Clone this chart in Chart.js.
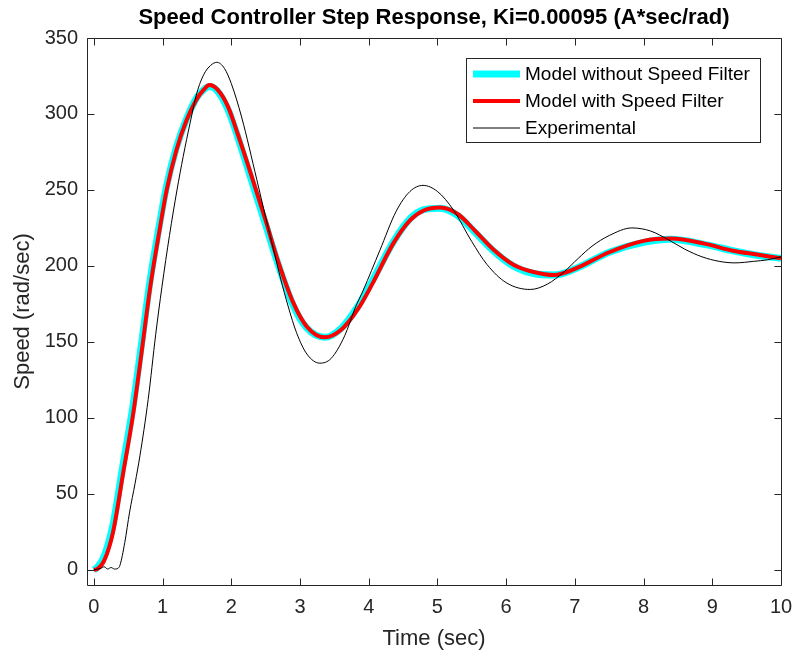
<!DOCTYPE html>
<html>
<head>
<meta charset="utf-8">
<script src="https://cdn.jsdelivr.net/npm/chart.js@4/dist/chart.umd.min.js"></script>
<style>
html,body{margin:0;padding:0;background:#fff;}
#c{display:block;}
</style>
</head>
<body>
<canvas id="c" width="793" height="657"></canvas>
<script>
// ---- data ----
const modelTime = [0,0.05,0.15,0.28,0.42,0.57,0.7,0.82,0.95,1.06,1.2,1.35,1.5,1.6,1.68,1.8,1.95,2.1,2.31,2.5,2.66,2.9,3.1,3.36,3.6,3.85,4.05,4.36,4.6,4.8,5.04,5.3,5.55,5.81,6.1,6.4,6.7,7.0,7.5,8.0,8.4,8.9,9.3,9.65,10];
const modelNoFilter = [0,1.5,9,30,68,108,151,191,226,253,278,297,311,316,318,315,303,284,254,227,204,174,159,153,159,174,190,216,231,237,238,233,222,210,200,195,194,198,209,215.5,217.5,214,210,207,205];
const modelWithFilter = [0,0.5,6,25,62,102,145,186,222,250,276,296,310,316,319,316,305,286,257,230,206,176,160,153,158,172,188,215,230,236.5,238.5,234,223,211,201,196,194,198,209,216.5,218,214.5,210,207.5,205];
const expTime = [0,0.1,0.15,0.2,0.25,0.3,0.35,0.38,0.45,0.52,0.6,0.67,0.79,0.9,0.99,1.1,1.21,1.3,1.4,1.5,1.6,1.7,1.79,1.9,2.0,2.15,2.37,2.5,2.63,2.71,2.83,2.95,3.1,3.29,3.45,3.65,3.8,3.92,4.16,4.4,4.6,4.79,5.0,5.23,5.5,5.72,6.0,6.35,6.6,6.84,7.05,7.25,7.5,7.83,8.1,8.37,8.6,8.85,9.1,9.33,9.6,9.8,10];
const experimental = [0,1,2,0.5,1.5,0.5,1,3,18,38,57,75,112,155,186,220,250,272,294,314,326,332,334,330,320,298,257,232,208,193,173,156,142,136,139,154,172,184,210,236,249,253,249,237,216,201,189,184.5,188,196,205,213,220,225,223,217,211,206,203,202,203,204,206];
const xTicks = [0,1,2,3,4,5,6,7,8,9,10];
const yTicks = [0,50,100,150,200,250,300,350];
const seriesNames = ['Model without Speed Filter','Model with Speed Filter','Experimental'];
const titleText = 'Speed Controller Step Response, Ki=0.00095 (A*sec/rad)';
const xLabel = 'Time (sec)';
const yLabel = 'Speed (rad/sec)';

const FONT = '"Liberation Sans", Arial, Helvetica, sans-serif';
const TXT = '#262626';

function pts(xs, ys){ return xs.map((x,i)=>({x:x, y:ys[i]})); }

const boxPlugin = {
  id:'matlabBox',
  afterDraw(chart){
    const ctx = chart.ctx, a = chart.chartArea;
    const xs = chart.scales.x, ys = chart.scales.y;
    ctx.save();
    ctx.strokeStyle = TXT; ctx.lineWidth = 1;
    ctx.beginPath();
    const L=Math.round(a.left)+0.5, R=Math.round(a.right)+0.5, T=Math.round(a.top)+0.5, B=Math.round(a.bottom)+0.5;
    ctx.rect(L,T,R-L,B-T);
    const tl = 7;
    xTicks.forEach(v=>{
      const px = Math.round(xs.getPixelForValue(v))+0.5;
      ctx.moveTo(px,B); ctx.lineTo(px,B-tl);
      ctx.moveTo(px,T); ctx.lineTo(px,T+tl);
    });
    yTicks.forEach(v=>{
      const py = Math.round(ys.getPixelForValue(v))+0.5;
      ctx.moveTo(L,py); ctx.lineTo(L+tl,py);
      ctx.moveTo(R,py); ctx.lineTo(R-tl,py);
    });
    ctx.stroke();
    // title
    ctx.fillStyle = '#000';
    ctx.font = 'bold 22px ' + FONT;
    ctx.textAlign = 'center'; ctx.textBaseline = 'middle';
    ctx.fillText(titleText, (a.left+a.right)/2, 18);
    // legend
    const lx = 466, ly = 58, lw = 294, lh = 84;
    ctx.fillStyle = '#fff';
    ctx.fillRect(lx, ly, lw, lh);
    ctx.strokeStyle = TXT; ctx.lineWidth = 1;
    ctx.strokeRect(lx+0.5, ly+0.5, lw, lh);
    const rows = [74, 101, 128];
    chart.data.datasets.forEach((ds,i)=>{
      ctx.strokeStyle = ds.borderColor;
      ctx.lineWidth = ds.borderWidth;
      ctx.beginPath();
      ctx.moveTo(473, rows[i]); ctx.lineTo(520, rows[i]);
      ctx.stroke();
      ctx.fillStyle = '#000';
      ctx.font = '19px ' + FONT;
      ctx.textAlign = 'left'; ctx.textBaseline = 'middle';
      ctx.fillText(ds.label, 525, rows[i]+1);
    });
    ctx.restore();
  }
};

new Chart(document.getElementById('c'), {
  type:'line',
  data:{
    datasets:[
      {label:seriesNames[0], data:pts(modelTime, modelNoFilter), borderColor:'#00FFFF', borderWidth:7, pointRadius:0, tension:0.4, cubicInterpolationMode:'monotone', fill:false, order:3},
      {label:seriesNames[1], data:pts(modelTime, modelWithFilter), borderColor:'#FF0000', borderWidth:4, pointRadius:0, tension:0.4, cubicInterpolationMode:'monotone', fill:false, order:2},
      {label:seriesNames[2], data:pts(expTime, experimental), borderColor:'#000000', borderWidth:1, pointRadius:0, tension:0.4, cubicInterpolationMode:'monotone', fill:false, order:1}
    ]
  },
  options:{
    responsive:false,
    animation:false,
    devicePixelRatio:1,
    layout:{padding:{top:38, right:12, left:0, bottom:0}},
    plugins:{legend:{display:false}, title:{display:false}, tooltip:{enabled:false}},
    scales:{
      x:{
        type:'linear', min:-0.1, max:10,
        afterBuildTicks(s){ s.ticks = xTicks.map(v=>({value:v})); },
        afterFit(s){ s.height = 72; s.paddingRight = 0; s.paddingLeft = 0; },
        grid:{display:false, drawTicks:false},
        border:{display:false},
        ticks:{color:TXT, font:{family:FONT, size:20}, padding:10, maxRotation:0, autoSkip:false},
        title:{display:true, text:xLabel, color:TXT, font:{family:FONT, size:22}, padding:{top:0,bottom:5}}
      },
      y:{
        type:'linear', min:-10, max:350,
        afterBuildTicks(s){ s.ticks = yTicks.map(v=>({value:v})); },
        afterFit(s){ s.width = 87; s.paddingTop = 0; s.paddingBottom = 0; },
        grid:{display:false, drawTicks:false},
        border:{display:false},
        ticks:{color:TXT, font:{family:FONT, size:20}, padding:9, autoSkip:false},
        title:{display:true, text:yLabel, color:TXT, font:{family:FONT, size:22}, padding:{top:10,bottom:0}}
      }
    }
  },
  plugins:[boxPlugin]
});
</script>
</body>
</html>
